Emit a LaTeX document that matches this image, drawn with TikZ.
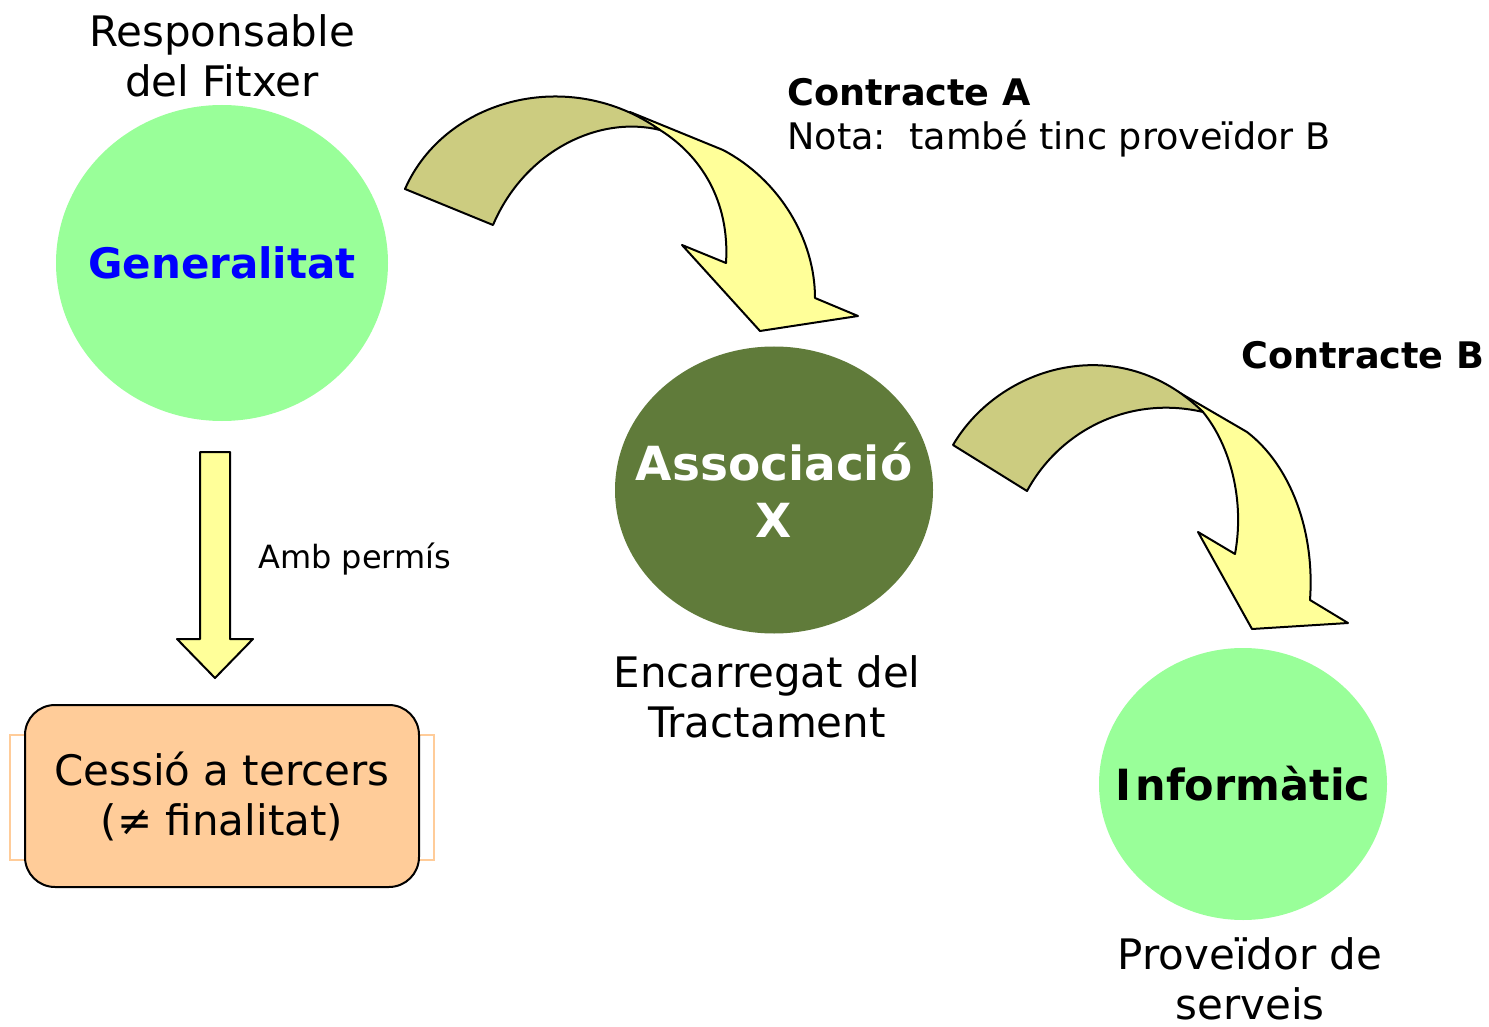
\documentclass[tikz,border=0pt]{standalone}
\usepackage{fontspec}
\setmainfont{DejaVu Sans}
\usetikzlibrary{shapes.geometric}
\definecolor{lgreen}{RGB}{153,255,153}
\definecolor{dgreen}{RGB}{96,123,58}
\definecolor{khaki}{RGB}{204,204,128}
\definecolor{lyellow}{RGB}{255,255,153}
\definecolor{peach}{RGB}{255,204,153}
\newcommand{\slim}[1]{\makebox[0pt]{#1}}
\begin{document}
\begin{tikzpicture}[x=0.5pt,y=-0.5pt,inner sep=0pt,
    txt/.style={align=center,font=\fontsize{21}{25}\selectfont},
    blob/.style={ellipse,draw=none},
    bandback/.style={fill=khaki,draw=black,line width=1pt,line join=round},
    bandfront/.style={fill=lyellow,draw=black,line width=1pt,line join=round}]
    \useasboundingbox (0,0) rectangle (1489,1027);
    %actors
    \node (gen) at (222,263) [blob,fill=lgreen,minimum width=166pt,minimum height=158pt,text=blue,font=\fontsize{21}{25}\bfseries]{\slim{Generalitat}};
    \node (assoc) at (774,490) [blob,fill=dgreen,minimum width=159pt,minimum height=143.5pt,text=white,align=center,font=\fontsize{23.5}{28.5}\bfseries]{\slim{Associació}\\\slim{X}};
    \node (info) at (1243,784) [blob,fill=lgreen,minimum width=144pt,minimum height=136pt,font=\fontsize{21.5}{25}\bfseries]{\slim{I\kern2pt nformàtic}};
    
    %roles
    \node (resp) at (222,97) [txt,anchor=base]{Responsable\\del Fitxer};
    \node (encar) at (767,737) [txt,anchor=base]{Encarregat del\\Tractament};
    \node (prov) at (1250,1019) [txt,anchor=base]{Proveïdor de\\serveis};
    
    %third parties
    \draw [peach,line width=1pt] (10,735) rectangle (434,860);
    \node (cessio) at (222,796) [draw,line width=1pt,fill=peach,rounded corners=15pt,minimum width=197pt,minimum height=91pt,txt]{Cessió a tercers\\(≠ finalitat)};
    \draw [bandfront] (200,452) -- (230,452) -- (230,639) -- (253,639) -- (215,678) -- (177,639) -- (200,639) -- cycle;
    \node (perm) at (258,568) [anchor=base west,font=\fontsize{16}{19}\selectfont]{Amb permís};
    
    %contract A
    \draw [bandfront] (630,112) -- (723,150) .. controls (780,180) and (815,240) .. (815,298) -- (858,316) -- (760,331) -- (682,245) -- (726,263) .. controls (730,200) and (700,155) .. (660,130) -- cycle;
    \draw [bandback] (405,189) .. controls (445,98) and (570,66) .. (660,130) .. controls (600,115) and (525,150) .. (493,225) -- cycle;
    \node (ctrA) at (787,150) [anchor=base west,align=left,font=\fontsize{18.3}{22}\selectfont]{\textbf{Contracte A}\\Nota:\ \ també tinc proveïdor B};
    
    %contract B
    \draw [bandfront] (1180,393) -- (1247,432) .. controls (1290,465) and (1315,530) .. (1310,600) -- (1348,623) -- (1252,629) -- (1198,532) -- (1235,554) .. controls (1245,500) and (1230,445) .. (1203,412) -- cycle;
    \draw [bandback] (953,445) .. controls (1000,365) and (1120,330) .. (1203,412) .. controls (1130,395) and (1060,430) .. (1027,491) -- cycle;
    \node (ctrB) at (1241,368) [anchor=base west,font=\fontsize{18.3}{22}\bfseries]{Contracte B};
\end{tikzpicture}
\end{document}
